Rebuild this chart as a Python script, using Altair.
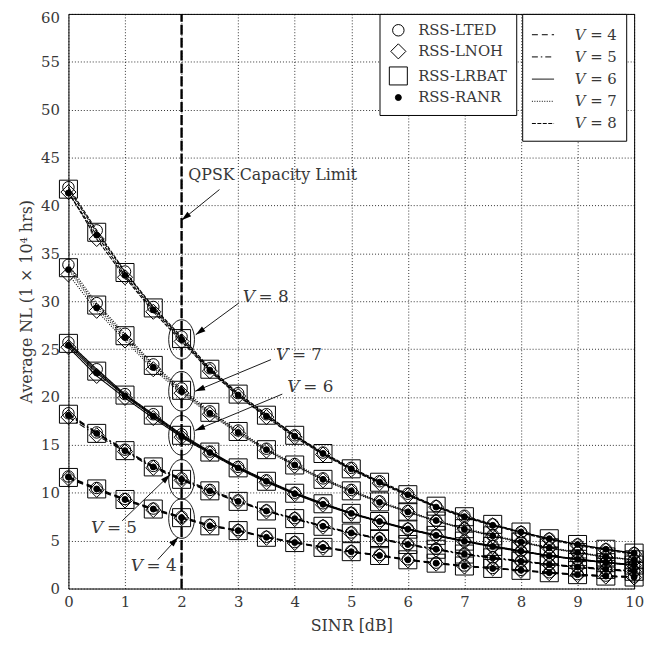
import math
import altair as alt
import pandas as pd

FONT = "DejaVu Serif"
TXT = "#383838"

SINR = [0.0, 0.5, 1.0, 1.5, 2.0, 2.5, 3.0, 3.5, 4.0, 4.5, 5.0,
        5.5, 6.0, 6.5, 7.0, 7.5, 8.0, 8.5, 9.0, 9.5, 10.0]

ALGS = ["RSS-LTED", "RSS-LNOH", "RSS-LRBAT", "RSS-RANR"]
# order used by the (monotone) marker-size scale: smallest marker first
SIZE_ORDER = ["RSS-RANR", "RSS-LTED", "RSS-LNOH", "RSS-LRBAT"]
V_LABELS = ["𝑉 = 4", "𝑉 = 5", "𝑉 = 6", "𝑉 = 7", "𝑉 = 8"]

# RSS-LTED (circles)
LTED_V4 = [11.7, 10.5, 9.35, 8.35, 7.5, 6.65, 6.1, 5.4, 4.85, 4.35, 3.9, 3.5, 3.05, 2.7, 2.4, 2.15, 1.95, 1.7, 1.5, 1.35, 1.25]
LTED_V5 = [18.3, 16.3, 14.5, 12.8, 11.5, 10.3, 9.2, 8.15, 7.35, 6.55, 5.85, 5.25, 4.65, 4.15, 3.65, 3.25, 2.9, 2.55, 2.3, 2.05, 1.85]
LTED_V6 = [25.7, 22.9, 20.3, 18.2, 16.1, 14.3, 12.7, 11.3, 10.0, 8.9, 7.9, 7.05, 6.25, 5.6, 5.0, 4.45, 3.95, 3.45, 3.1, 2.75, 2.5]
LTED_V7 = [33.8, 29.8, 26.6, 23.4, 20.9, 18.5, 16.5, 14.6, 13.0, 11.5, 10.3, 9.1, 8.1, 7.1, 6.3, 5.6, 4.9, 4.3, 3.8, 3.35, 3.0]
LTED_V8 = [41.9, 37.4, 33.1, 29.4, 26.3, 23.0, 20.4, 18.2, 16.0, 14.2, 12.6, 11.2, 9.9, 8.6, 7.6, 6.7, 5.9, 5.2, 4.6, 4.1, 3.7]

# RSS-LNOH (diamonds)
LNOH_V4 = [11.5, 10.3, 9.2, 8.2, 7.35, 6.5, 6.0, 5.3, 4.75, 4.25, 3.8, 3.4, 2.95, 2.6, 2.3, 2.1, 1.85, 1.6, 1.4, 1.25, 1.15]
LNOH_V5 = [17.9, 16.0, 14.3, 12.6, 11.3, 10.1, 9.05, 8.05, 7.25, 6.45, 5.75, 5.15, 4.55, 4.05, 3.55, 3.15, 2.8, 2.5, 2.2, 1.95, 1.75]
LNOH_V6 = [25.2, 22.2, 19.9, 17.8, 15.8, 14.1, 12.5, 11.1, 9.85, 8.75, 7.8, 6.95, 6.15, 5.5, 4.9, 4.35, 3.85, 3.4, 3.0, 2.7, 2.4]
LNOH_V7 = [32.8, 29.0, 25.9, 22.9, 20.4, 18.2, 16.2, 14.4, 12.8, 11.3, 10.1, 8.95, 7.95, 7.0, 6.2, 5.45, 4.8, 4.2, 3.7, 3.25, 2.95]
LNOH_V8 = [41.4, 36.5, 32.5, 28.9, 25.8, 22.7, 20.1, 17.9, 15.8, 14.0, 12.4, 11.0, 9.7, 8.5, 7.4, 6.6, 5.8, 5.1, 4.5, 4.0, 3.6]

# RSS-LRBAT (squares)
LRBAT_V4 = [11.6, 10.4, 9.3, 8.3, 7.4, 6.55, 6.05, 5.35, 4.8, 4.3, 3.85, 3.45, 3.0, 2.65, 2.35, 2.1, 1.9, 1.65, 1.45, 1.3, 1.2]
LRBAT_V5 = [18.2, 16.2, 14.4, 12.7, 11.4, 10.2, 9.1, 8.1, 7.3, 6.5, 5.8, 5.2, 4.6, 4.1, 3.6, 3.2, 2.85, 2.5, 2.25, 2.0, 1.8]
LRBAT_V6 = [25.6, 22.7, 20.2, 18.1, 16.0, 14.25, 12.6, 11.2, 9.95, 8.85, 7.85, 7.0, 6.2, 5.55, 4.95, 4.4, 3.9, 3.4, 3.05, 2.7, 2.45]
LRBAT_V7 = [33.5, 29.6, 26.4, 23.3, 20.7, 18.4, 16.4, 14.5, 12.9, 11.4, 10.2, 9.05, 8.0, 7.05, 6.25, 5.5, 4.85, 4.25, 3.75, 3.3, 3.0]
LRBAT_V8 = [41.7, 37.2, 33.0, 29.3, 26.1, 22.9, 20.3, 18.1, 16.0, 14.1, 12.5, 11.1, 9.8, 8.6, 7.5, 6.7, 5.9, 5.2, 4.6, 4.1, 3.7]

# RSS-RANR (dots)
RANR_V4 = [11.65, 10.4, 9.3, 8.3, 7.4, 6.55, 6.05, 5.35, 4.8, 4.3, 3.85, 3.45, 3.0, 2.65, 2.35, 2.1, 1.9, 1.65, 1.45, 1.3, 1.2]
RANR_V5 = [18.1, 16.2, 14.4, 12.7, 11.4, 10.2, 9.1, 8.1, 7.3, 6.5, 5.8, 5.2, 4.6, 4.1, 3.6, 3.2, 2.85, 2.5, 2.25, 2.0, 1.8]
RANR_V6 = [25.4, 22.5, 20.1, 18.0, 15.9, 14.2, 12.6, 11.2, 9.9, 8.8, 7.85, 7.0, 6.2, 5.55, 4.95, 4.4, 3.9, 3.4, 3.05, 2.7, 2.45]
RANR_V7 = [33.3, 29.3, 26.2, 23.1, 20.6, 18.3, 16.3, 14.5, 12.9, 11.4, 10.2, 9.0, 8.0, 7.1, 6.2, 5.5, 4.85, 4.25, 3.75, 3.3, 3.0]
RANR_V8 = [41.3, 36.9, 32.7, 29.1, 26.0, 22.8, 20.2, 18.0, 15.9, 14.1, 12.5, 11.1, 9.8, 8.5, 7.5, 6.6, 5.9, 5.2, 4.6, 4.1, 3.7]

TABLES = {
    "RSS-LRBAT": [LRBAT_V4, LRBAT_V5, LRBAT_V6, LRBAT_V7, LRBAT_V8],
    "RSS-LNOH": [LNOH_V4, LNOH_V5, LNOH_V6, LNOH_V7, LNOH_V8],
    "RSS-LTED": [LTED_V4, LTED_V5, LTED_V6, LTED_V7, LTED_V8],
    "RSS-RANR": [RANR_V4, RANR_V5, RANR_V6, RANR_V7, RANR_V8],
}

rows = []
for alg, series in TABLES.items():
    for vlab, vals in zip(V_LABELS, series):
        for x, y in zip(SINR, vals):
            rows.append({"alg": alg, "V": vlab, "x": x, "y": y})
df = pd.DataFrame(rows)

# annotations (data coordinates)
QPSK_X = 2.0
ELLIPSE_Y = [26.0, 20.6, 16.0, 11.4, 7.3]
LABEL_TEXT = ["= 8", "= 7", "= 6", "= 5", "= 4"]
LABEL_X = [3.08, 3.67, 3.87, 0.40, 1.10]
LABEL_Y = [30.4, 24.4, 21.0, 6.3, 2.3]
ARROW_X0 = [2.67, 3.01, 3.58, 3.78, 0.95, 1.58]
ARROW_Y0 = [41.66, 29.8, 23.9, 20.3, 7.07, 3.03]
ARROW_X1 = [2.0, 2.25, 2.24, 2.24, 1.80, 1.94]
ARROW_Y1 = [38.45, 26.5, 20.6, 16.5, 11.9, 5.35]

W, H = 571, 580
SX, SY = W / 10.0, H / 60.0

def heading(x0, y0, x1, y1):
    dx = (x1 - x0) * SX
    dy = -(y1 - y0) * SY
    return math.degrees(math.atan2(dx, -dy)) % 360

arrows = pd.DataFrame({"x0": ARROW_X0, "y0": ARROW_Y0, "x1": ARROW_X1, "y1": ARROW_Y1})
arrows["ang"] = [heading(a, b, c, d) for a, b, c, d in zip(ARROW_X0, ARROW_Y0, ARROW_X1, ARROW_Y1)]
ell = pd.DataFrame({"x": [QPSK_X] * len(ELLIPSE_Y), "y": ELLIPSE_Y})
labels = pd.DataFrame({"x": LABEL_X, "y": LABEL_Y, "t": LABEL_TEXT})
qpsk = pd.DataFrame({"x": [QPSK_X], "y": [0], "y2": [60]})
qtext = pd.DataFrame({"x": [2.12], "y": [43.2], "t": ["QPSK Capacity Limit"]})

xs = alt.Scale(domain=[0, 10], nice=False)
ys = alt.Scale(domain=[0, 60], nice=False)
X = alt.X("x:Q", scale=xs, axis=alt.Axis(values=list(range(11)), format="d", title="SINR [dB]",
                                           labelFlush=False, labelPadding=6, titlePadding=8))
Y = alt.Y("y:Q", scale=ys, axis=alt.Axis(values=list(range(0, 61, 5)), format="d",
                                           title="Average NL (1 × 10⁴ hrs)", labelFlush=False,
                                           labelOffset={"condition": {"test": "datum.value == 60", "value": 4},
                                                        "value": 0},
                                           labelPadding=9, titlePadding=6))
Xp = alt.X("x:Q", scale=xs)
Yp = alt.Y("y:Q", scale=ys)

LEG1 = alt.Legend(title=None, orient="none", legendX=314, legendY=0, values=ALGS,
                  rowPadding=2.3, labelOffset=10, padding=9,
                  labelExpr="datum.label + '\u2002\u2002\u2002\u2009'",
                  symbolStrokeColor="black", symbolStrokeWidth=1, symbolOpacity=1)
LEG2 = alt.Legend(title=None, orient="none", legendX=458, legendY=0, symbolType="stroke",
                  symbolSize=500, symbolStrokeWidth=1, symbolStrokeColor="black",
                  labelExpr="datum.label + '\u2002\u2009'",
                  rowPadding=2.4, labelOffset=20, padding=9)

qline = alt.Chart(qpsk).mark_rule(color="black", strokeWidth=2.4, strokeDash=[10, 3]).encode(
    x=X, y=Y, y2="y2:Q")

lines = alt.Chart(df).mark_line(color="black", strokeWidth=1.1).encode(
    x=Xp, y=Yp, detail="alg:N",
    strokeDash=alt.StrokeDash("V:N", scale=alt.Scale(domain=V_LABELS,
        range=[[6, 4], [6, 3, 1.5, 3], [1, 0], [1, 1.5], [4, 1.5]]), legend=LEG2),
    order="x:Q")

points = alt.Chart(df).mark_point(filled=True, strokeWidth=1, opacity=1).encode(
    x=Xp, y=Yp,
    shape=alt.Shape("alg:N", scale=alt.Scale(domain=SIZE_ORDER,
                    range=["circle", "circle", "diamond", "square"]), legend=LEG1),
    size=alt.Size("alg:N", scale=alt.Scale(type="point", domain=SIZE_ORDER, range=[36, 330],
                  padding=0), legend=LEG1),
    fill=alt.Fill("alg:N", scale=alt.Scale(domain=SIZE_ORDER,
                  range=["black", "transparent", "transparent", "transparent"]), legend=LEG1),
    stroke=alt.Stroke("alg:N", scale=alt.Scale(domain=SIZE_ORDER,
                      range=["black", "black", "black", "black"]), legend=LEG1),
)

ELLIPSE = ("M0,-1 C0.359,-1 0.65,-0.552 0.65,0 C0.65,0.552 0.359,1 0,1 "
           "C-0.359,1 -0.65,0.552 -0.65,0 C-0.65,-0.552 -0.359,-1 0,-1 Z")
ellipses = alt.Chart(ell).mark_point(shape=ELLIPSE, size=1600, filled=False, stroke="black",
                                     strokeWidth=0.9, opacity=1).encode(x=Xp, y=Yp)

arrow_lines = alt.Chart(arrows).mark_rule(color="black", strokeWidth=0.9).encode(
    x=alt.X("x0:Q", scale=xs), y=alt.Y("y0:Q", scale=ys), x2="x1:Q", y2="y1:Q")
HEAD = "M0,0 L0.3,1 L-0.3,1 Z"
heads = alt.Chart(arrows).mark_point(shape=HEAD, size=400, filled=True, color="black", opacity=1).encode(
    x=alt.X("x1:Q", scale=xs), y=alt.Y("y1:Q", scale=ys), angle=alt.Angle("ang:Q", scale=None))

vtxt = alt.Chart(labels).mark_text(text="V", font=FONT, fontSize=17, fontStyle="italic",
                                   align="left", baseline="middle", color=TXT).encode(x=Xp, y=Yp)
eqtxt = alt.Chart(labels).mark_text(font=FONT, fontSize=17, align="left", baseline="middle",
                                    dx=16, color=TXT).encode(x=Xp, y=Yp, text="t:N")
qtxt = alt.Chart(qtext).mark_text(font=FONT, fontSize=16, align="left", baseline="middle",
                                  color=TXT).encode(x=Xp, y=Yp, text="t:N")

chart = alt.layer(qline, lines, points, ellipses, arrow_lines, heads, vtxt, eqtxt, qtxt
).properties(width=W, height=H, autosize=alt.AutoSizeParams(type="none"),
             padding={"left": 61, "top": 3, "right": 14, "bottom": 52}
).configure_view(stroke="black", strokeWidth=1
).configure_axis(grid=True, gridColor="black", gridDash=[1, 2], gridWidth=0.9, gridOpacity=0.9,
                 domain=False, ticks=False, labelFont=FONT, labelFontSize=15, labelColor=TXT,
                 titleFont=FONT, titleFontSize=16, titleColor=TXT, titleFontWeight="normal"
).configure_legend(strokeColor="black", fillColor="white", labelFont=FONT, labelFontSize=15,
                   labelColor=TXT, cornerRadius=0)

chart.save("out.html", embed_options={"renderer": "svg", "actions": False})
